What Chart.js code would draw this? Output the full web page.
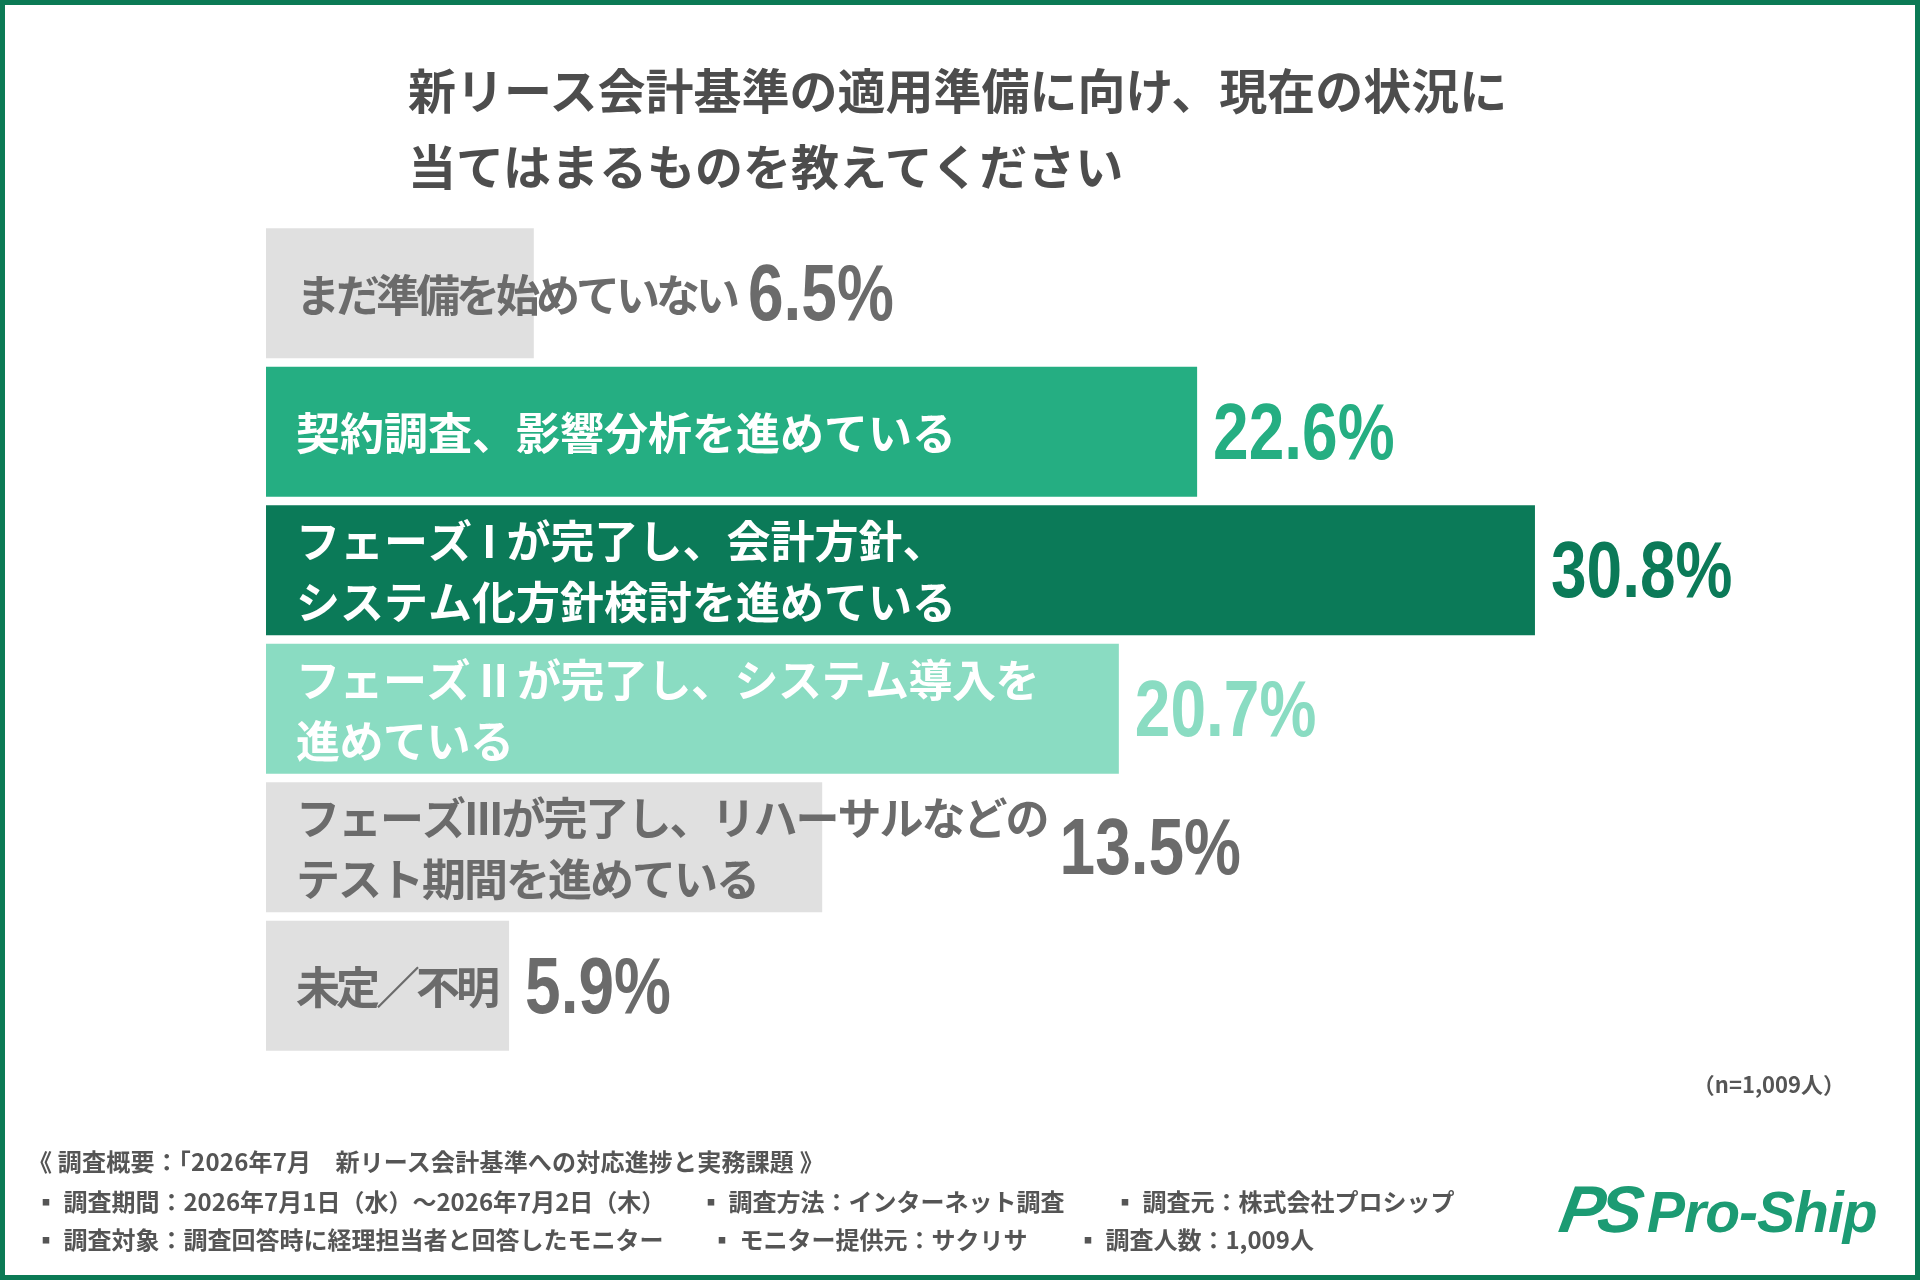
<!DOCTYPE html>
<html lang="ja">
<head>
<meta charset="UTF-8">
<title>新リース会計基準の適用準備</title>
<script src="https://cdn.jsdelivr.net/npm/chart.js"></script>
<style>
  html, body { margin: 0; padding: 0; background: #fff; }
  #frame {
    position: relative; width: 1920px; height: 1280px; box-sizing: border-box;
    border: 5px solid #0b7a55; background: #fff; overflow: hidden;
    font-family: "Noto Sans CJK JP", sans-serif; color: #555;
  }
  #chart { position: absolute; left: -5px; top: -5px; }
  .title {
    position: absolute; left: 403px; top: 45px; font-size: 48px; font-weight: 700;
    line-height: 76px; color: #4d4d4d; white-space: nowrap;
  }
  .n { position: absolute; right: 70px; top: 1062px; font-size: 22px; font-weight: 700; color: #555; }
  .foot { position: absolute; font-size: 24px; font-weight: 700; color: #555; white-space: nowrap; line-height: 30px; }
  .logo {
    position: absolute; left: 1556px; top: 1166px; color: #1c9b73; white-space: nowrap;
    font-family: "Liberation Sans", Arial, sans-serif; font-style: italic; font-weight: 700;
  }
  .logo .ps { font-size: 66px; font-weight: 900; letter-spacing: -6px; transform: skewX(-10deg); display: inline-block; }
  .logo .name { font-size: 57px; margin-left: 10px; letter-spacing: -1px; }
</style>
</head>
<body>
<div id="frame">
  <canvas id="chart" width="1920" height="1280"></canvas>
  <div class="title">新リース会計基準の適用準備に向け、現在の状況に<br>当てはまるものを教えてください</div>
  <div class="n">（n=1,009人）</div>
  <div class="foot" style="left:23px; top:1141px; letter-spacing:0.2px;">《 調査概要：「2026年7月　新リース会計基準への対応進捗と実務課題 》</div>
  <div class="foot" style="left:29px; top:1181px;">▪ 調査期間：2026年7月1日（水）～2026年7月2日（木）</div>
  <div class="foot" style="left:694px; top:1181px;">▪ 調査方法：インターネット調査</div>
  <div class="foot" style="left:1108px; top:1181px;">▪ 調査元：株式会社プロシップ</div>
  <div class="foot" style="left:29px; top:1219px;">▪ 調査対象：調査回答時に経理担当者と回答したモニター</div>
  <div class="foot" style="left:705px; top:1219px;">▪ モニター提供元：サクリサ</div>
  <div class="foot" style="left:1071px; top:1219px;">▪ 調査人数：1,009人</div>
  <div class="logo"><span class="ps">PS</span><span class="name">Pro-Ship</span></div>
</div>
<script>
const categories = [
  ['まだ準備を始めていない'],
  ['契約調査、影響分析を進めている'],
  ['フェーズ I が完了し、会計方針、', 'システム化方針検討を進めている'],
  ['フェーズ II が完了し、システム導入を', '進めている'],
  ['フェーズIIIが完了し、リハーサルなどの', 'テスト期間を進めている'],
  ['未定／不明']
];
const values = [6.5, 22.6, 30.8, 20.7, 13.5, 5.9];

const barColors   = ['#e0e0e0', '#25ae82', '#0b7a58', '#8adcc2', '#e0e0e0', '#e0e0e0'];
const labelColors = ['#6b6b6b', '#ffffff', '#ffffff', '#ffffff', '#6b6b6b', '#6b6b6b'];
const valueColors = ['#6b6b6b', '#25ae82', '#0b7a58', '#8adcc2', '#6b6b6b', '#6b6b6b'];
// the original sets some labels tighter than others
const labelTracking = [-4, 0, 0, -0.5, -2, -4];

// condensed look for the percentages: squeeze a bold sans horizontally
const VALUE_SQUEEZE = 0.8;

const barText = {
  id: 'barText',
  afterDatasetsDraw(chart) {
    const ctx = chart.ctx;
    const meta = chart.getDatasetMeta(0);
    ctx.save();
    meta.data.forEach((bar, i) => {
      const lines = categories[i];
      const x0 = bar.base + 30;
      ctx.font = 'bold 44px "Noto Sans CJK JP", sans-serif';
      ctx.letterSpacing = labelTracking[i] + 'px';
      ctx.textBaseline = 'middle';
      ctx.textAlign = 'left';
      ctx.fillStyle = labelColors[i];
      let textRight = 0;
      lines.forEach((ln, k) => {
        const y = bar.y + (k - (lines.length - 1) / 2) * 61;
        ctx.fillText(ln, x0, y + 2);
        textRight = Math.max(textRight, x0 + ctx.measureText(ln).width);
      });
      ctx.letterSpacing = '0px';
      const vx = Math.max(bar.x + 16, textRight + 12);
      ctx.font = 'bold 80px "Liberation Sans", Arial, sans-serif';
      ctx.textBaseline = 'alphabetic';
      ctx.fillStyle = valueColors[i];
      ctx.save();
      ctx.translate(vx, bar.y + 27);
      ctx.scale(VALUE_SQUEEZE, 1);
      ctx.fillText(values[i].toFixed(1) + '%', 0, 0);
      ctx.restore();
    });
    ctx.restore();
  }
};

new Chart(document.getElementById('chart'), {
  type: 'bar',
  data: {
    labels: categories.map(c => c.join('')),
    datasets: [{
      data: values,
      backgroundColor: barColors,
      borderWidth: 0,
      barPercentage: 0.94,
      categoryPercentage: 1.0
    }]
  },
  options: {
    indexAxis: 'y',
    responsive: false,
    animation: false,
    devicePixelRatio: 1,
    layout: { padding: { left: 266, top: 224, bottom: 225, right: 212 } },
    plugins: { legend: { display: false }, tooltip: { enabled: false } },
    scales: {
      x: { display: false, min: 0, max: 35 },
      y: { display: false }
    }
  },
  plugins: [barText]
});
</script>
</body>
</html>
